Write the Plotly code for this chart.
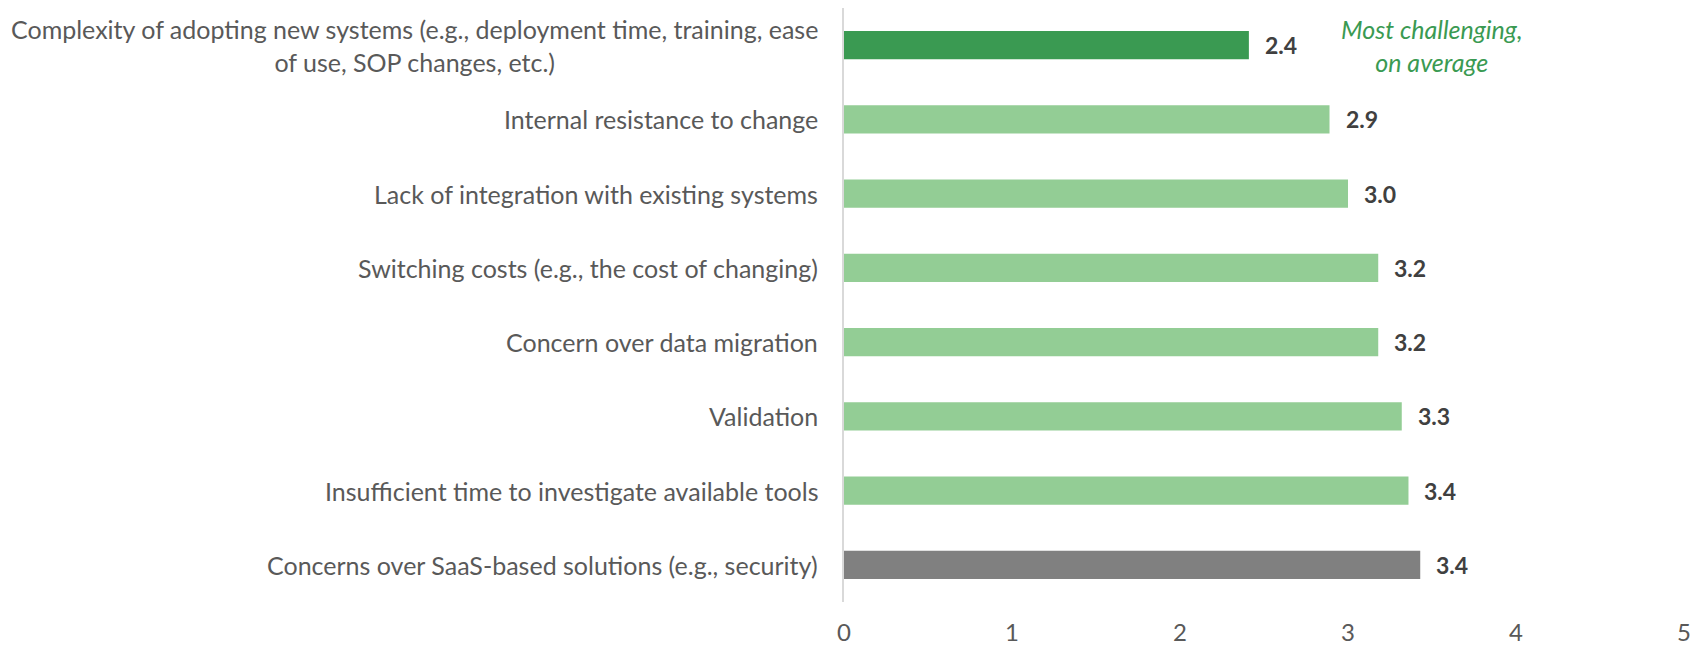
import plotly.graph_objects as go

# data (top to bottom)
challenges = [
    "Complexity of adopting new systems (e.g., deployment time, training, ease<br>of use, SOP changes, etc.)",
    "Internal resistance to change",
    "Lack of integration with existing systems",
    "Switching costs (e.g., the cost of changing)",
    "Concern over data migration",
    "Validation",
    "Insufficient time to investigate available tools",
    "Concerns over SaaS-based solutions (e.g., security)",
]
avg_score = [2.41, 2.89, 3.00, 3.18, 3.18, 3.32, 3.36, 3.43]
bar_colors = ["#3A9A52"] + ["#93CD95"] * 6 + ["#808080"]
x_ticks = [0, 1, 2, 3, 4, 5]

FONT = "Lato"
label_color = "#595959"

fig = go.Figure()

fig.add_trace(
    go.Bar(
        x=avg_score,
        y=challenges,
        orientation="h",
        marker=dict(color=bar_colors, line=dict(width=0)),
        width=0.38,
        hoverinfo="skip",
    )
)

# category labels as annotations so wrapped lines are centred
for label in challenges:
    fig.add_annotation(
        x=0, xref="paper", y=label, yref="y",
        text=label, showarrow=False,
        xanchor="right", xshift=-24, align="center",
        font=dict(family=FONT, size=25, color=label_color),
    )

# value labels just past the bar ends
for label, val in zip(challenges, avg_score):
    fig.add_annotation(
        x=val, y=label, text=f"<b>{val:.1f}</b>", showarrow=False,
        xanchor="left", xshift=14,
        font=dict(family=FONT, size=23, color="#404040"),
    )

fig.add_annotation(
    x=3.5, y=challenges[0],
    text="<i>Most challenging,<br>on average</i>",
    showarrow=False, align="center",
    font=dict(family=FONT, size=25, color="#3A9A52"),
)

# page body has an 8px margin, so the figure is sized to fit inside it
fig.update_layout(
    width=1694, height=641,
    margin=dict(l=836, r=18, t=0, b=47),
    plot_bgcolor="white", paper_bgcolor="white",
    showlegend=False,
    font=dict(family=FONT, color=label_color),
    xaxis=dict(
        range=[0, 5], tickvals=x_ticks, showgrid=False,
        zeroline=False, showline=False,
        tickfont=dict(size=24, color=label_color), ticks="",
        ticklabelstandoff=14,
    ),
    yaxis=dict(
        categoryorder="array", categoryarray=challenges,
        autorange="reversed", showticklabels=False,
        showgrid=False, zeroline=False,
        showline=True, linecolor="#D9D9D9", linewidth=1.5,
    ),
)

fig.write_html("out.html")
